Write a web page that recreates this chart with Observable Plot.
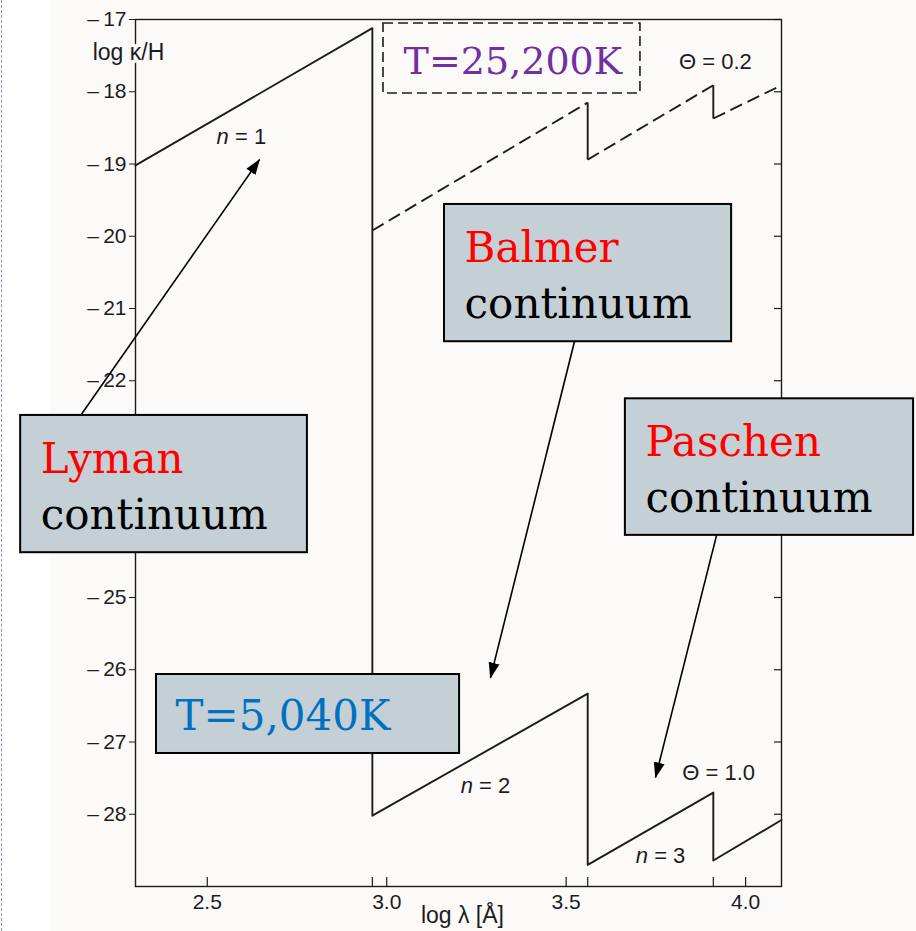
<!DOCTYPE html>
<html>
<head>
<meta charset="utf-8">
<script src="https://cdn.jsdelivr.net/npm/d3@7"></script>
<script src="https://cdn.jsdelivr.net/npm/@observablehq/plot@0.6"></script>
<style>
  html, body { margin: 0; padding: 0; background: #ffffff; width: 916px; height: 931px; overflow: hidden; }
  #page { position: absolute; left: 50px; top: 0; width: 866px; height: 931px; background: #fbfaf9; }
  #edge { position: absolute; left: 1px; top: 0; height: 931px; border-left: 1.5px dashed #8a97b8; }
  #chart { position: absolute; left: 0; top: 0; }
  #chart svg { display: block; }
</style>
</head>
<body>
<div id="page"></div>
<div id="edge"></div>
<div id="chart"></div>
<script>
// Hydrogen bound-free absorption coefficient per H atom, log kappa/H vs log lambda [Å]
// Theta = 1.0 (T = 5,040 K), solid curve
const logLambdaCool = [2.30, 2.96, 2.96, 3.56, 3.56, 3.91, 3.91, 4.10];
const logKappaCool  = [-19.02, -17.12, -28.02, -26.33, -28.70, -27.70, -28.64, -28.08];
// Theta = 0.2 (T = 25,200 K), dashed curve
const logLambdaHot = [2.96, 3.56, 3.56, 3.91, 3.91, 4.10];
const logKappaHot  = [-19.92, -18.15, -18.94, -17.91, -18.37, -17.91];
// Series limits (Lyman, Balmer, Paschen edges) marked on the wavelength axis
const seriesEdges = [2.96, 3.56, 3.91];
// Axis ticks
const xTicks = [2.5, 3.0, 3.5, 4.0];
const yTicks = [-28, -27, -26, -25, -24, -23, -22, -21, -20, -19, -18, -17];
// Curve labels
const levelLabels = ["n = 1", "n = 2", "n = 3"];
const levelLabelX = [2.595, 3.275, 3.763];
const levelLabelY = [-18.73, -27.71, -28.68];
const thetaLabels = ["Θ = 0.2", "Θ = 1.0"];
const thetaLabelX = [3.916, 3.925];
const thetaLabelY = [-17.68, -27.52];
// Callout boxes (continuum names) and arrows
const calloutName  = ["Lyman", "Balmer", "Paschen"];
const calloutX1 = [1.980, 3.161, 3.665];
const calloutX2 = [2.779, 3.961, 4.468];
const calloutY1 = [-22.48, -19.56, -22.25];
const calloutY2 = [-24.38, -21.46, -24.14];
const arrowFromX = [2.147, 3.523, 3.919];
const arrowFromY = [-22.48, -21.46, -24.14];
const arrowToX = [2.6455, 3.289, 3.749];
const arrowToY = [-18.94, -26.11, -27.49];
// Temperature tags
const tempText = ["T=25,200K", "T=5,040K"];

const W = 916, H = 931;
const M = {top: 19, right: 135, bottom: 45, left: 135};
const plotW = W - M.left - M.right, plotH = H - M.top - M.bottom;
const xMin = 2.3;
const ink = "#1c1c1c";
const paper = "#fbfaf9";
const sans = "'Liberation Sans', Arial, Helvetica, sans-serif";
const serif = "'DejaVu Serif', Georgia, serif";
const boxFill = "#c5d0d6";

const cool = logLambdaCool.map((x, i) => ({x, y: logKappaCool[i]}));
const hotSegments = d3.pairs(logLambdaHot.map((x, i) => ({x, y: logKappaHot[i]})))
  .map(([a, b]) => ({x1: a.x, y1: a.y, x2: b.x, y2: b.y}));
const hotSlopes = hotSegments.filter(d => d.x1 !== d.x2);
const hotDrops = hotSegments.filter(d => d.x1 === d.x2);

const callouts = calloutName.map((name, i) => ({
  name, x1: calloutX1[i], x2: calloutX2[i], y1: calloutY1[i], y2: calloutY2[i]
}));
const arrows = arrowFromX.map((x, i) => ({x1: x, y1: arrowFromY[i], x2: arrowToX[i], y2: arrowToY[i]}));
const levels = levelLabels.map((t, i) => ({t, x: levelLabelX[i], y: levelLabelY[i]}));
const thetas = thetaLabels.map((t, i) => ({t, x: thetaLabelX[i], y: thetaLabelY[i]}));

// tick labels that sit under an opaque callout box on the left axis are not drawn
const coveredByCallout = v => callouts.some(c => c.x1 < xMin && c.x2 > xMin && v <= c.y1 && v >= c.y2);
const yLabelTicks = yTicks.filter(v => !coveredByCallout(v));

// temperature tag boxes
const hotTag = {x1: 2.991, x2: 3.707, y1: -17.055, y2: -18.024, tx: 3.047, ty: -17.75};
const coolTag = {x1: 2.3585, x2: 3.203, y1: -26.066, y2: -27.159, tx: 2.4115, ty: -26.84};
const calloutTextDx = 0.056;   // left padding inside callout boxes
const line1Dy = 0.79, line2Dy = 1.565; // baselines below box top

const chart = Plot.plot({
  width: W, height: H,
  marginTop: M.top, marginRight: M.right, marginBottom: M.bottom, marginLeft: M.left,
  style: {background: "transparent", fontFamily: sans, overflow: "visible", color: ink},
  x: {domain: [xMin, 4.1]},
  y: {domain: [-29, -17]},
  marks: [
    Plot.frame({stroke: ink, strokeWidth: 1.4}),
    // left axis: outward ticks at every integer, labels where not covered
    Plot.axisY({ticks: yTicks, anchor: "left", tickSize: 6, tickFormat: () => "", label: null, stroke: ink}),
    Plot.axisY({ticks: yLabelTicks, anchor: "left", tickSize: 6, tickPadding: 3, fontSize: 21, label: null, fill: ink,
      strokeOpacity: 0, tickFormat: d => "\u2013\u2009" + Math.abs(d)}),
    // right axis: inward ticks
    Plot.ruleY(yTicks, {insetLeft: plotW - 7, stroke: ink, strokeWidth: 1.2}),
    // bottom axis: labels, inward ticks at round values and at the series edges
    Plot.axisX({ticks: xTicks, anchor: "bottom", tickSize: 0, tickPadding: 8, fontSize: 21, label: null, tickFormat: d3.format(".1f"), fill: ink}),
    Plot.ruleX(xTicks.concat(seriesEdges), {insetTop: plotH - 9, stroke: ink, strokeWidth: 1.2}),

    // curves
    Plot.line(cool, {x: "x", y: "y", stroke: ink, strokeWidth: 1.9}),
    Plot.link(hotSlopes, {x1: "x1", y1: "y1", x2: "x2", y2: "y2", stroke: ink, strokeWidth: 1.9, strokeDasharray: "13,6"}),
    Plot.link(hotDrops, {x1: "x1", y1: "y1", x2: "x2", y2: "y2", stroke: ink, strokeWidth: 1.9}),

    // curve labels
    Plot.text(levels, {x: "x", y: "y", text: "t", fontSize: 22, fontFamily: sans, fill: ink, lineAnchor: "bottom"}),
    Plot.text(thetas, {x: "x", y: "y", text: "t", fontSize: 22, fontFamily: sans, fill: ink, lineAnchor: "bottom"}),

    // axis titles
    Plot.text(["log κ/H"], {x: 2.2805, y: -17.567, fontSize: 23, fontFamily: sans, fill: ink, lineAnchor: "bottom", stroke: paper, strokeWidth: 7}),
    Plot.text(["log λ [Å]"], {x: 3.211, y: -29.512, fontSize: 23, fontFamily: sans, fill: ink, lineAnchor: "bottom"}),

    // temperature tags
    Plot.rect([hotTag], {x1: "x1", x2: "x2", y1: "y1", y2: "y2", fill: "none", stroke: ink, strokeWidth: 1.6, strokeDasharray: "10,5"}),
    Plot.text([hotTag], {x: "tx", y: "ty", text: () => tempText[0], fontSize: 38, fontFamily: serif, fill: "#7030a0", textAnchor: "start", lineAnchor: "bottom"}),
    Plot.rect([coolTag], {x1: "x1", x2: "x2", y1: "y1", y2: "y2", fill: boxFill, stroke: "#000", strokeWidth: 2}),
    Plot.text([coolTag], {x: "tx", y: "ty", text: () => tempText[1], fontSize: 42, fontFamily: serif, fill: "#0070c0", textAnchor: "start", lineAnchor: "bottom"}),

    // callouts
    Plot.link(arrows, {x1: "x1", y1: "y1", x2: "x2", y2: "y2", stroke: "#000", strokeWidth: 1.6}),
    Plot.rect(callouts, {x1: "x1", x2: "x2", y1: "y1", y2: "y2", fill: boxFill, stroke: "#000", strokeWidth: 2}),
    Plot.text(callouts, {x: d => d.x1 + calloutTextDx, y: d => d.y1 - line1Dy, text: "name", fontSize: 42, fontFamily: serif, fill: "#ff0000", textAnchor: "start", lineAnchor: "bottom"}),
    Plot.text(callouts, {x: d => d.x1 + calloutTextDx, y: d => d.y1 - line2Dy, text: () => "continuum", fontSize: 42, fontFamily: serif, fill: "#000", textAnchor: "start", lineAnchor: "bottom"})
  ]
});

const svg = d3.select(chart);
// filled arrowheads on the callout arrows (the last link mark)
const defs = svg.insert("defs", ":first-child");
defs.append("marker")
  .attr("id", "callout-head")
  .attr("viewBox", "0 -6 16 12")
  .attr("refX", 15).attr("refY", 0)
  .attr("markerWidth", 16).attr("markerHeight", 12)
  .attr("markerUnits", "userSpaceOnUse")
  .attr("orient", "auto")
  .append("path").attr("d", "M0,-5.5L16,0L0,5.5Z").attr("fill", "#000");
const linkGroups = svg.selectAll('g[aria-label="link"]').nodes();
d3.select(linkGroups[linkGroups.length - 1]).selectAll("path").attr("marker-end", "url(#callout-head)");
// italic quantum number symbol in the level labels (the first text mark)
const textGroups = svg.selectAll('g[aria-label="text"]').nodes();
d3.select(textGroups[0]).selectAll("text").each(function() {
  const s = this.textContent;
  const t = d3.select(this).text("");
  t.append("tspan").attr("font-style", "italic").text(s.slice(0, 1));
  t.append("tspan").text(s.slice(1));
});

document.getElementById("chart").appendChild(chart);
</script>
</body>
</html>
